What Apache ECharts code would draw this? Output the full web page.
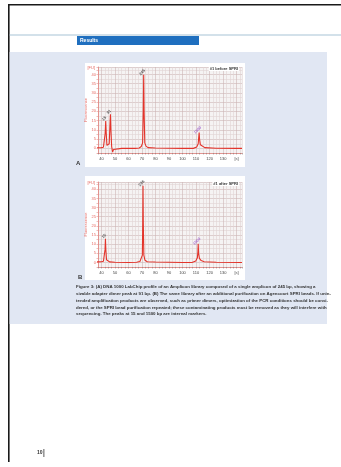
<!DOCTYPE html>
<html>
<head>
<meta charset="utf-8">
<script src="https://cdn.jsdelivr.net/npm/echarts@6/dist/echarts.min.js"></script>
<style>
html,body{margin:0;padding:0;background:#fff}
#c{width:341px;height:467px}
</style>
</head>
<body>
<div id="c"></div>
<script>
// Migration time axis (s) and tick labels
const xTicks = [40, 50, 60, 70, 80, 90, 100, 110, 120, 130, 140];
const xTickLabels = ['40', '50', '60', '70', '80', '90', '100', '110', '120', '130', '[s]'];
// Fluorescence axis ticks (FU)
const yTicks = [0, 5, 10, 15, 20, 25, 30, 35, 40];

// Electropherogram A: library before SPRI clean-up [time s, FU]
const traceA = [
  [36, 0.3], [40, 0.4], [41.5, 0.6], [42.3, 1.5], [42.8, 8], [43.2, 14.8], [43.6, 8], [44.1, 1.6],
  [45, 1.5], [45.8, 2.5], [46.3, 12], [46.7, 18.4], [47.1, 9], [47.6, 1], [48.3, -2], [49, -0.6],
  [50, 0], [55, 0], [60, 0], [65, 0], [68, 0.2], [69.5, 1], [70.5, 3], [71, 20], [71.3, 39.8],
  [71.6, 20], [72.1, 3], [73, 1.2], [74.5, 0.4], [80, 0.2], [90, 0.1], [100, 0], [108, 0],
  [110.5, 0.8], [111.6, 2.5], [112, 6], [112.3, 8.6], [112.6, 5], [113.2, 2], [114.5, 1],
  [116.5, 0.4], [125, 0.1], [140, 0], [144, 0]
];
// Electropherogram B: same library after SPRI clean-up
const traceB = [
  [36, 0.3], [40, 0.4], [41.5, 0.6], [42.2, 1.2], [42.7, 7], [43.0, 13], [43.3, 7], [43.8, 1.5],
  [44.5, 0.8], [46, 0.3], [50, 0.1], [60, 0], [66, 0.1], [68.5, 0.5], [69.6, 1.2], [70.3, 4],
  [70.6, 22], [70.8, 42], [71.0, 22], [71.4, 4], [72.2, 1.2], [74, 0.4], [80, 0.2], [90, 0.1],
  [100, 0], [107, 0], [109.8, 0.8], [111, 2.5], [111.4, 6], [111.6, 10.2], [111.9, 5],
  [112.5, 2.2], [113.8, 1], [116, 0.4], [125, 0.1], [144, 0]
];

// Called peaks (time s, FU) and their fragment sizes (bp)
const peaksA = [[43.2, 14.8], [46.7, 18.4], [71.3, 39.8], [112.3, 8.6]];
const peakSizesA = ['15', '91', '245', '1500'];
const peaksB = [[43.0, 13], [70.8, 42], [111.6, 10.2]];
const peakSizesB = ['15', '245', '1500'];

const sampleNames = ['#1 before SPRI', '#1 after SPRI'];
const panelLetters = ['A', 'B'];

const captionLines = [
  'Figure 3: (A) DNA 1000 LabChip profile of an Amplicon library composed of a single amplicon of 245 bp, showing a',
  'sizable adapter dimer peak at 91 bp. (B) The same library after an additional purification on Agencourt SPRI beads. If unin-',
  'tended amplification products are observed, such as primer dimers, optimization of the PCR conditions should be consi-',
  'dered, or the SPRI bead purification repeated; these contaminating products must be removed as they will interfere with',
  'sequencing. The peaks at 15 and 1500 bp are internal markers.'
];

const RED = '#e3342b';
const AXIS_RED = '#e07f7a';
const FONT = 'Liberation Sans';
const MAJOR = '#cdb5b5';
const MINOR = '#e0d4d4';

const chart = echarts.init(document.getElementById('c'), null, {renderer: 'canvas'});

// Grid lines every 2.5 s; every fourth one (multiples of 10 s) is darker
function xAxisFor(gi) {
  return {
    type: 'value', gridIndex: gi, min: 37.5, max: 144, interval: 2.5,
    axisLine: {show: true, onZero: false, lineStyle: {color: AXIS_RED, width: 0.8}},
    axisTick: {show: true, length: 1.5, lineStyle: {color: '#777', width: 0.5}},
    axisLabel: {
      fontSize: 4, color: '#444', fontFamily: FONT, margin: 3.5, customValues: xTicks,
      formatter: v => { const i = xTicks.indexOf(v); return i >= 0 ? xTickLabels[i] : ''; }
    },
    splitLine: {show: true, lineStyle: {color: [MINOR, MAJOR, MINOR, MINOR], width: 0.6}}
  };
}
// Grid lines every 2.5 FU; multiples of 5 are darker
function yAxisFor(gi) {
  return {
    type: 'value', gridIndex: gi, min: -2.5, max: 44, interval: 2.5,
    name: 'Fluorescence', nameLocation: 'middle', nameGap: 8,
    nameTextStyle: {fontSize: 4, color: '#e66a63', fontFamily: FONT},
    axisLine: {show: true, onZero: false, lineStyle: {color: AXIS_RED, width: 0.8}},
    axisTick: {show: true, length: 1.5, lineStyle: {color: AXIS_RED, width: 0.5}},
    axisLabel: {
      fontSize: 4, color: '#e66a63', fontFamily: FONT, margin: 2, customValues: yTicks,
      formatter: v => String(v)
    },
    splitLine: {show: true, lineStyle: {color: [MINOR, MAJOR], width: 0.6}}
  };
}

function peakSeries(gi, pts, sizes, markerIndex) {
  return {
    type: 'scatter', xAxisIndex: gi, yAxisIndex: gi,
    data: pts.map((p, i) => ({value: p, label: i === markerIndex ? {color: '#9b59c9'} : {}})),
    symbol: 'circle', symbolSize: 0, silent: true, z: 5,
    label: {
      show: true, position: 'top', distance: 1, rotate: 45, fontSize: 4,
      fontFamily: FONT, fontWeight: 'bold', color: '#333',
      formatter: p => sizes[p.dataIndex]
    }
  };
}

const boxes = [
  {x: 85, y: 63, w: 160, h: 104},
  {x: 85, y: 176, w: 160, h: 104}
];
const grids = [
  {left: 98, top: 67, width: 144, height: 86},
  {left: 98, top: 182, width: 144, height: 85}
];

const graphics = [
  // page frame
  {type: 'rect', shape: {x: 8, y: 4, width: 333, height: 1.6}, style: {fill: '#1a1a1a'}, z: -20},
  {type: 'rect', shape: {x: 8, y: 4, width: 1.6, height: 458}, style: {fill: '#1a1a1a'}, z: -20},
  // header rule
  {type: 'rect', shape: {x: 9.6, y: 34.5, width: 332, height: 1}, style: {fill: '#a8c4d6'}, z: -20},
  // section banner
  {type: 'rect', shape: {x: 77, y: 36, width: 122, height: 9}, style: {fill: '#1f6fbf'}, z: -20},
  {type: 'text', x: 80, y: 40.5, style: {text: 'Results', fill: '#fff', fontSize: 5, fontWeight: 'bold', fontFamily: FONT, verticalAlign: 'middle'}, z: -19},
  // figure panel
  {type: 'rect', shape: {x: 9.6, y: 52, width: 317.4, height: 272}, style: {fill: '#e1e7f3'}, z: -20},
  // page number
  {type: 'text', x: 37, y: 453, style: {text: '10', fill: '#333', fontSize: 5, fontWeight: 'bold', fontFamily: FONT, verticalAlign: 'middle'}, z: 10},
  {type: 'rect', shape: {x: 43.5, y: 449, width: 0.8, height: 8}, style: {fill: '#333'}, z: 10}
];
boxes.forEach((b, i) => {
  graphics.push({type: 'rect', shape: {x: b.x, y: b.y, width: b.w, height: b.h}, style: {fill: '#ffffff'}, z: -15});
  graphics.push({type: 'text', x: 239, y: grids[i].top + 1.5,
    style: {text: sampleNames[i], fill: '#333', fontSize: 4, fontFamily: FONT, fontWeight: 'bold', align: 'right', verticalAlign: 'middle',
      backgroundColor: '#fff', padding: [0.5, 1]}, z: 10});
  graphics.push({type: 'text', x: i === 0 ? 76 : 78, y: grids[i].top + grids[i].height + 10,
    style: {text: panelLetters[i], fill: '#333', fontSize: 6, fontWeight: 'bold', fontFamily: FONT, verticalAlign: 'middle'}, z: 10});
  graphics.push({type: 'text', x: 95, y: grids[i].top + 0.5,
    style: {text: '[FU]', fill: '#e66a63', fontSize: 4, fontFamily: FONT, align: 'right', verticalAlign: 'middle'}, z: 10});
});
captionLines.forEach((t, i) => {
  graphics.push({type: 'text', x: 76, y: 287 + i * 6.8,
    style: {text: t, fill: '#333', fontSize: 4.4, fontWeight: 'bold', fontFamily: FONT, verticalAlign: 'middle'}, z: 10});
});

chart.setOption({
  animation: false,
  backgroundColor: '#ffffff',
  textStyle: {fontFamily: FONT},
  graphic: {elements: graphics},
  grid: grids.map(g => Object.assign({show: true, backgroundColor: '#f5f3f3', borderWidth: 0}, g)),
  xAxis: [xAxisFor(0), xAxisFor(1)],
  yAxis: [yAxisFor(0), yAxisFor(1)],
  series: [
    {type: 'line', xAxisIndex: 0, yAxisIndex: 0, data: traceA, showSymbol: false, smooth: false,
      lineStyle: {color: RED, width: 1.1}, z: 3},
    {type: 'line', xAxisIndex: 1, yAxisIndex: 1, data: traceB, showSymbol: false, smooth: false,
      lineStyle: {color: RED, width: 1.1}, z: 3},
    peakSeries(0, peaksA, peakSizesA, 3),
    peakSeries(1, peaksB, peakSizesB, 2)
  ]
});
</script>
</body>
</html>
